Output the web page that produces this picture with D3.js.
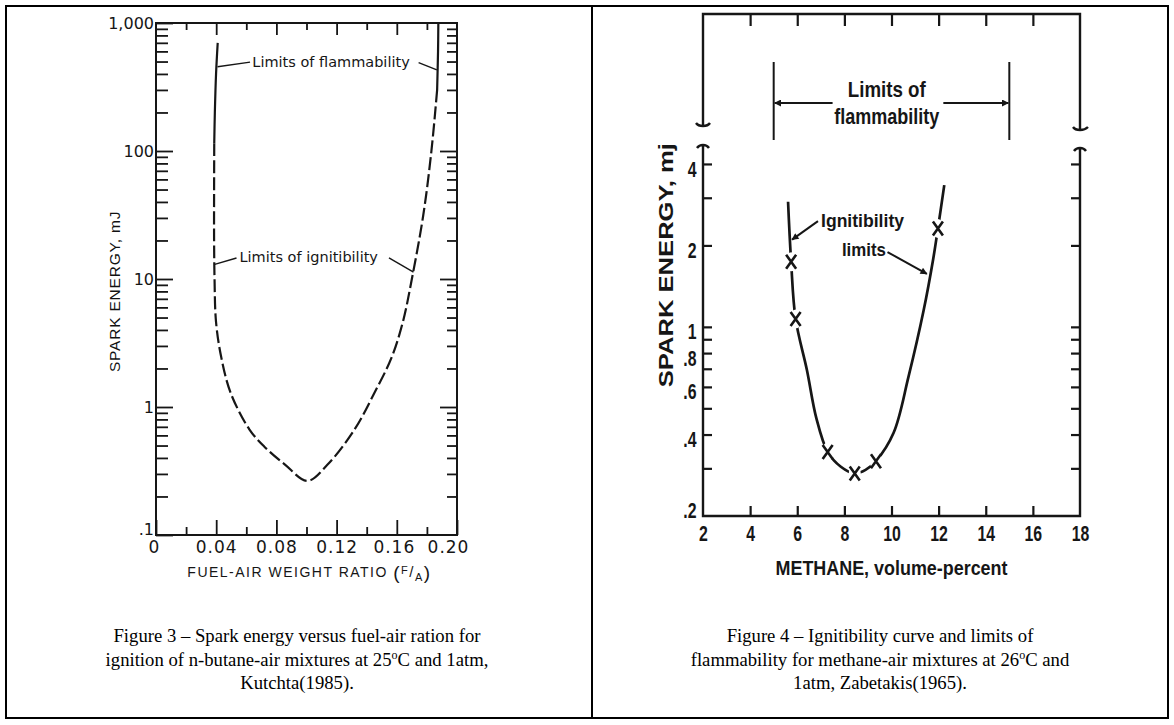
<!DOCTYPE html>
<html><head><meta charset="utf-8">
<script src="https://cdn.jsdelivr.net/npm/d3@7"></script>
<style>
body{margin:0;background:#fff;}
svg{display:block;}
.f3{font-family:"DejaVu Sans",Verdana,sans-serif;}
.f4{font-family:"Liberation Sans",Arial,sans-serif;font-weight:bold;}
.cap{font-family:"Liberation Serif","Times New Roman",serif;font-size:18.7px;}
</style></head><body>
<svg id="c" width="1174" height="725"></svg>
<script>
// ---------- Figure 3 (n-butane) data ----------
const fig3LeftFlammX  = [0.0410, 0.0399, 0.0391, 0.0387];
const fig3LeftFlammY  = [700, 400, 200, 115];
const fig3IgnitX = [0.0387, 0.0386, 0.0386, 0.0389, 0.0399, 0.0435, 0.0497, 0.0620, 0.0720, 0.0857, 0.1006, 0.1140, 0.1320, 0.1450, 0.1565, 0.1640, 0.1700, 0.1776, 0.1830, 0.1868];
const fig3IgnitY = [115, 50, 20, 10, 4.6, 2.4, 1.28, 0.67, 0.49, 0.355, 0.265, 0.355, 0.67, 1.28, 2.43, 4.6, 10, 31.6, 100, 300];
const fig3RightFlammX = [0.1868, 0.1874, 0.1876];
const fig3RightFlammY = [300, 600, 1000];
const fig3XTicks = [0, 0.04, 0.08, 0.12, 0.16, 0.20];
const fig3XTickLabels = ["0", "0.04", "0.08", "0.12", "0.16", "0.20"];
const fig3XMinor = [0.02, 0.06, 0.10, 0.14, 0.18];
const fig3YTicks = [0.1, 1, 10, 100, 1000];
const fig3YTickLabels = [".1", "1", "10", "100", "1,000"];
const fig3YMinor = [0.2,0.3,0.4,0.5,0.6,0.7,0.8,0.9, 2,3,4,5,6,7,8,9, 20,30,40,50,60,70,80,90, 200,300,400,500,600,700,800,900];
const fig3NoteText = ["Limits of flammability", "Limits of ignitibility"];
const fig3NoteX = [0.0640, 0.0555];
const fig3NoteY = [495, 14.8];
const fig3LeaderFrom = [[0.0625, 495], [0.1745, 490], [0.0535, 14.6], [0.1548, 14.6]];
const fig3LeaderTo   = [[0.0409, 455], [0.1866, 430], [0.0390, 13.0], [0.1711, 11.3]];

// ---------- Figure 4 (methane) data ----------
const fig4CurveX = [5.61, 5.74, 5.93, 6.41, 6.81, 7.29, 7.85, 8.44, 8.90, 9.34, 10.09, 10.72, 11.36, 11.77, 11.97, 12.24];
const fig4CurveY = [2.90, 1.74, 1.07, 0.693, 0.460, 0.345, 0.304, 0.287, 0.296, 0.319, 0.406, 0.653, 1.146, 1.782, 2.31, 3.34];
const fig4PointsX = [5.74, 5.93, 7.29, 8.44, 9.34, 11.97];
const fig4PointsY = [1.74, 1.07, 0.345, 0.287, 0.319, 2.31];
const fig4XTicks = [2, 4, 6, 8, 10, 12, 14, 16, 18];
const fig4XTickLabels = ["2", "4", "6", "8", "10", "12", "14", "16", "18"];
const fig4YTicks = [0.2, 0.4, 0.6, 0.8, 1, 2, 4];
const fig4YTickLabels = [".2", ".4", ".6", ".8", "1", "2", "4"];
const fig4YMinor = [0.3, 0.4, 0.5, 0.6, 0.7, 0.8, 0.9, 1, 2, 3, 4];
const fig4FlammLimits = [5, 15];
const fig4NoteText = ["Ignitibility", "limits"];
const fig4NoteX = [8.77, 8.83];
const fig4NoteY = [2.48, 1.94];
const fig4ArrowFrom = [[6.88, 2.46], [9.83, 1.89]];
const fig4ArrowTo   = [[5.78, 2.10], [11.50, 1.57]];

const caption3 = ["Figure 3 \u2013 Spark energy versus fuel-air ration for", ["ignition of n-butane-air mixtures at 25", "o", "C and 1atm,"], "Kutchta(1985)."];
const caption4 = ["Figure 4 \u2013 Ignitibility curve and limits of", ["flammability for methane-air mixtures at 26", "o", "C and"], "1atm, Zabetakis(1965)."];

// ---------- drawing ----------
const ink = "#161616";
const svg = d3.select("#c");
const defs = svg.append("defs");
defs.append("marker").attr("id","ah").attr("viewBox","0 0 10 10")
  .attr("refX",9).attr("refY",5).attr("markerWidth",10).attr("markerHeight",7)
  .attr("markerUnits","userSpaceOnUse").attr("orient","auto")
  .append("path").attr("d","M0,0 L10,5 L0,10 z").attr("fill",ink);

// table borders
const bg = svg.append("g").attr("stroke","#000").attr("stroke-width",2);
[[5,6,1169,6],[5,718,1169,718],[6,6,6,718],[592,6,592,718],[1168,6,1168,718]].forEach(l=>{
  bg.append("line").attr("x1",l[0]).attr("y1",l[1]).attr("x2",l[2]).attr("y2",l[3]);
});

const zip = (a,b)=>a.map((v,i)=>[v,b[i]]);

// ===== Figure 3 =====
const x3 = d3.scaleLinear().domain([0, 0.2]).range([156, 457]);
const y3 = d3.scaleLog().domain([0.1, 1000]).range([535, 23]);
const g3 = svg.append("g").attr("class","f3");

function styleAxis(g){
  g.attr("font-family",null).attr("font-size",null);
  g.select(".domain").remove();
  g.selectAll("line").attr("stroke",ink).attr("stroke-width",1.8);
  g.selectAll("text").attr("fill",ink);
}

// minor ticks
g3.append("g").attr("transform",`translate(${x3(0)},0)`).call(d3.axisLeft(y3).tickValues(fig3YMinor).tickSize(-12).tickFormat("")).call(styleAxis);
g3.append("g").attr("transform",`translate(${x3(0.2)},0)`).call(d3.axisRight(y3).tickValues(fig3YMinor).tickSize(-10).tickFormat("")).call(styleAxis);
g3.append("g").attr("transform",`translate(0,${y3(1000)})`).call(d3.axisTop(x3).tickValues(fig3XMinor).tickSize(-7).tickFormat("")).call(styleAxis);
g3.append("g").attr("transform",`translate(0,${y3(0.1)})`).call(d3.axisBottom(x3).tickValues(fig3XMinor).tickSize(-8).tickFormat("")).call(styleAxis);
// major ticks
g3.append("g").attr("transform",`translate(${x3(0)},0)`)
  .call(d3.axisLeft(y3).tickValues(fig3YTicks).tickSize(-17).tickPadding(2).tickFormat((d,i)=>fig3YTickLabels[i]))
  .call(styleAxis).call(g=>g.selectAll("text").style("font-size","16px")
     .attr("dy",(d,i)=> i===0 ? "-0.05em" : "0.36em"));
g3.append("g").attr("transform",`translate(${x3(0.2)},0)`).call(d3.axisRight(y3).tickValues(fig3YTicks.slice(1,4)).tickSize(-17).tickFormat("")).call(styleAxis);
g3.append("g").attr("transform",`translate(0,${y3(1000)})`).call(d3.axisTop(x3).tickValues(fig3XTicks.slice(1,5)).tickSize(-12).tickFormat("")).call(styleAxis);
g3.append("g").attr("transform",`translate(0,${y3(0.1)})`)
  .call(d3.axisBottom(x3).tickValues(fig3XTicks).tickSize(-15).tickPadding(6).tickFormat((d,i)=>fig3XTickLabels[i]))
  .call(styleAxis).call(g=>g.selectAll("text").style("font-size","17px").attr("letter-spacing","1px")
     .attr("dx",(d,i)=> i===0 ? -2 : (i===5 ? -9 : (i===4 ? -3 : 0))));
// frame
g3.append("rect").attr("x",x3(0)).attr("y",y3(1000)).attr("width",x3(0.2)-x3(0)).attr("height",y3(0.1)-y3(1000))
  .attr("fill","none").attr("stroke",ink).attr("stroke-width",2);

// axis titles
g3.append("text").attr("x",(x3(0)+x3(0.2))/2+3).attr("y",y3(0.1)+42).attr("text-anchor","middle")
  .attr("font-family","'Liberation Sans',Arial,sans-serif").attr("font-size",14).attr("letter-spacing","1.5px").attr("fill",ink)
  .call(t=>{ t.append("tspan").text("FUEL-AIR WEIGHT RATIO ");
             t.append("tspan").attr("font-size",19).attr("dy",2).text("(");
             t.append("tspan").attr("font-size",11).attr("dy",-5).text("F");
             t.append("tspan").attr("font-size",15).attr("dy",3).text("/");
             t.append("tspan").attr("font-size",11).attr("dy",4).text("A");
             t.append("tspan").attr("font-size",19).attr("dy",-2).text(")"); });
g3.append("text").attr("transform",`translate(120,${y3(8)}) rotate(-90)`).attr("text-anchor","middle")
  .attr("font-family","'Liberation Sans',Arial,sans-serif").attr("font-size",15.5).attr("letter-spacing","0.8px").attr("fill","#111")
  .text("SPARK ENERGY, mJ");

// curves
const line3 = d3.line().x(d=>x3(d[0])).y(d=>y3(d[1])).curve(d3.curveCatmullRom.alpha(0.5));
g3.append("path").attr("d",line3(zip(fig3LeftFlammX,fig3LeftFlammY))).attr("fill","none").attr("stroke",ink).attr("stroke-width",2.2);
g3.append("path").attr("d",line3(zip(fig3RightFlammX,fig3RightFlammY))).attr("fill","none").attr("stroke",ink).attr("stroke-width",2.2);
g3.append("path").attr("d",line3(zip(fig3IgnitX,fig3IgnitY))).attr("fill","none").attr("stroke",ink).attr("stroke-width",2.2)
  .attr("stroke-dasharray","13,4");

// notes
fig3NoteText.forEach((t,i)=>{
  g3.append("text").attr("x",x3(fig3NoteX[i])).attr("y",y3(fig3NoteY[i])).attr("dy","0.35em")
    .attr("font-size",14.5).attr("fill",ink).text(t);
});
fig3LeaderFrom.forEach((f,i)=>{
  const t = fig3LeaderTo[i];
  g3.append("line").attr("x1",x3(f[0])).attr("y1",y3(f[1])).attr("x2",x3(t[0])).attr("y2",y3(t[1]))
    .attr("stroke",ink).attr("stroke-width",1.4);
});

// ===== Figure 4 =====
const x4 = d3.scaleLinear().domain([2, 18]).range([703, 1080]);
const y4 = d3.scaleLog().domain([0.2, 4.7]).range([516, 145]);
const g4 = svg.append("g").attr("class","f4");
const topY = 14, breakL = 126, breakR = 130, capL = 145, capR = 148;

// upper frame (break panel)
const fr = g4.append("g").attr("stroke",ink).attr("stroke-width",2.4).attr("fill","none");
fr.append("path").attr("d",`M${x4(2)},${breakL} L${x4(2)},${topY} L${x4(18)},${topY} L${x4(18)},${breakR}`);
fr.append("path").attr("d",`M${x4(2)-7},${breakL-3} Q${x4(2)-5},${breakL} ${x4(2)},${breakL} Q${x4(2)+5},${breakL} ${x4(2)+7},${breakL-3}`);
fr.append("path").attr("d",`M${x4(18)-7},${breakR-3} Q${x4(18)-5},${breakR} ${x4(18)},${breakR} Q${x4(18)+5},${breakR} ${x4(18)+8},${breakR-3}`);
// lower frame
fr.append("path").attr("d",`M${x4(2)},${capL} L${x4(2)},${y4(0.2)} L${x4(18)},${y4(0.2)} L${x4(18)},${capR}`);
fr.append("path").attr("d",`M${x4(2)-6},${capL+3} Q${x4(2)-4},${capL} ${x4(2)},${capL} Q${x4(2)+4},${capL} ${x4(2)+6},${capL+3}`);
fr.append("path").attr("d",`M${x4(18)-6},${capR+3} Q${x4(18)-4},${capR} ${x4(18)},${capR} Q${x4(18)+4},${capR} ${x4(18)+6},${capR+3}`);

function styleAxis4(g){
  g.attr("font-family",null).attr("font-size",null);
  g.select(".domain").remove();
  g.selectAll("line").attr("stroke",ink).attr("stroke-width",2.2);
  g.selectAll("text").attr("fill",ink);
}
const inner = fig4XTicks.slice(1, 8);
g4.append("g").attr("transform",`translate(0,${topY})`).call(d3.axisTop(x4).tickValues(inner).tickSize(-12).tickFormat("")).call(styleAxis4);
g4.append("g").attr("transform",`translate(0,${y4(0.2)})`).call(d3.axisBottom(x4).tickValues(inner).tickSize(-10).tickFormat("")).call(styleAxis4);
g4.append("g").attr("transform",`translate(0,${y4(0.2)})`)
  .call(d3.axisBottom(x4).tickValues(fig4XTicks).tickSize(0).tickPadding(9).tickFormat((d,i)=>fig4XTickLabels[i]))
  .call(styleAxis4).call(g=>g.selectAll("text").style("font-size","22px").attr("transform","scale(0.72,1)"));
g4.append("g").attr("transform",`translate(${x4(2)},0)`).call(d3.axisLeft(y4).tickValues(fig4YMinor).tickSize(-9).tickFormat("")).call(styleAxis4);
g4.append("g").attr("transform",`translate(${x4(18)},0)`).call(d3.axisRight(y4).tickValues(fig4YMinor).tickSize(-9).tickFormat("")).call(styleAxis4);
g4.append("g").attr("transform",`translate(${x4(2)},0)`)
  .call(d3.axisLeft(y4).tickValues(fig4YTicks).tickSize(0).tickPadding(9).tickFormat((d,i)=>fig4YTickLabels[i]))
  .call(styleAxis4).call(g=>g.selectAll("text").style("font-size","22px").attr("transform","scale(0.72,1)")
     .attr("dy",(d,i)=> i===0 ? "0.05em" : "0.55em"));

// titles
g4.append("text").attr("x",x4(10)).attr("y",y4(0.2)+59).attr("text-anchor","middle")
  .attr("font-size",21).attr("textLength",232).attr("lengthAdjust","spacingAndGlyphs").attr("fill",ink).text("METHANE, volume-percent");
g4.append("text").attr("transform",`translate(673,${y4(1.69)}) rotate(-90)`).attr("text-anchor","middle")
  .attr("font-size",21).attr("textLength",244).attr("lengthAdjust","spacingAndGlyphs").attr("fill",ink).text("SPARK ENERGY, mj");

// limits of flammability (upper panel)
const arrowY = 103;
fig4FlammLimits.forEach(v=>{
  g4.append("line").attr("x1",x4(v)).attr("x2",x4(v)).attr("y1",62).attr("y2",140).attr("stroke",ink).attr("stroke-width",2);
});
g4.append("line").attr("x1",x4(7.5)).attr("x2",x4(fig4FlammLimits[0])+1).attr("y1",arrowY).attr("y2",arrowY)
  .attr("stroke",ink).attr("stroke-width",2).attr("marker-end","url(#ah)");
g4.append("line").attr("x1",x4(12.2)).attr("x2",x4(fig4FlammLimits[1])-1).attr("y1",arrowY).attr("y2",arrowY)
  .attr("stroke",ink).attr("stroke-width",2).attr("marker-end","url(#ah)");
g4.append("text").attr("x",x4(9.8)).attr("y",97).attr("text-anchor","middle").attr("font-size",22)
  .attr("textLength",78).attr("lengthAdjust","spacingAndGlyphs").attr("fill",ink).text("Limits of");
g4.append("text").attr("x",x4(9.8)).attr("y",124).attr("text-anchor","middle").attr("font-size",22)
  .attr("textLength",105).attr("lengthAdjust","spacingAndGlyphs").attr("fill",ink).text("flammability");

// curve
const line4 = d3.line().x(d=>x4(d[0])).y(d=>y4(d[1])).curve(d3.curveCatmullRom.alpha(0.5));
g4.append("path").attr("d",line4(zip(fig4CurveX,fig4CurveY))).attr("fill","none").attr("stroke",ink).attr("stroke-width",2.7);
// markers
const mk = g4.append("g");
fig4PointsX.forEach((px,i)=>{
  const cx = x4(px), cy = y4(fig4PointsY[i]);
  mk.append("ellipse").attr("cx",cx).attr("cy",cy).attr("rx",6).attr("ry",9.5).attr("fill","#fff");
  mk.append("path").attr("d",`M${cx-5},${cy-7} L${cx+5},${cy+7} M${cx+5},${cy-7} L${cx-5},${cy+7}`)
    .attr("stroke",ink).attr("stroke-width",2.6).attr("fill","none");
});
// notes
const noteLen = [83, 44];
fig4NoteText.forEach((t,i)=>{
  g4.append("text").attr("x",x4(fig4NoteX[i])).attr("y",y4(fig4NoteY[i])).attr("dy","0.35em").attr("text-anchor","middle")
    .attr("font-size",19).attr("textLength",noteLen[i]).attr("lengthAdjust","spacingAndGlyphs").attr("fill",ink).text(t);
});
fig4ArrowFrom.forEach((f,i)=>{
  const t = fig4ArrowTo[i];
  g4.append("line").attr("x1",x4(f[0])).attr("y1",y4(f[1])).attr("x2",x4(t[0])).attr("y2",y4(t[1]))
    .attr("stroke",ink).attr("stroke-width",2).attr("marker-end","url(#ah)");
});

// ===== captions =====
function caption(lines, cx, y0){
  lines.forEach((ln,i)=>{
    const t = svg.append("text").attr("class","cap").attr("x",cx).attr("y",y0+i*23.5).attr("text-anchor","middle").attr("fill","#000");
    if (Array.isArray(ln)) {
      t.append("tspan").text(ln[0]);
      t.append("tspan").attr("font-size",12).attr("dy",-7).text(ln[1]);
      t.append("tspan").attr("dy",7).text(ln[2]);
    } else t.text(ln);
  });
}
caption(caption3, 297, 642);
caption(caption4, 880, 642);
</script>
</body></html>
